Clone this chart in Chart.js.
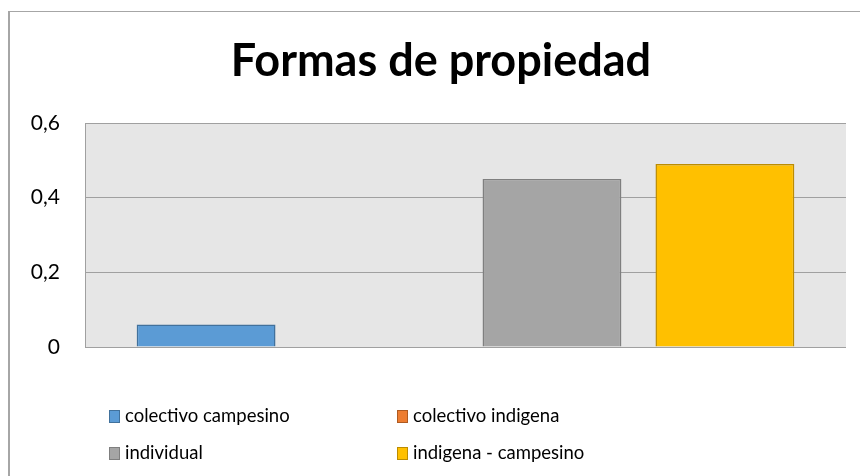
<!DOCTYPE html>
<html>
<head>
<meta charset="utf-8">
<script src="https://cdn.jsdelivr.net/npm/chart.js@4/dist/chart.umd.min.js"></script>
<style>
  body { margin: 0; background: #fff; }
  #wrap { position: relative; width: 860px; height: 476px; overflow: hidden; font-family: Lato, "Open Sans", sans-serif; }
  #frame { position: absolute; left: 8px; top: 11px; width: 900px; height: 500px; border-left: 2px solid #a6a6a6; border-top: 1px solid #a6a6a6; box-sizing: border-box; }
  #myChart { position: absolute; left: 0; top: 0; }
  #legend { position: absolute; left: 109px; top: 402px; width: 700px; }
  .item { position: absolute; white-space: nowrap; font-size: 18.5px; color: #000; line-height: 26px; }
  .item span.box { display: inline-block; width: 11px; height: 13px; margin-right: 5px; vertical-align: -1px; box-sizing: border-box; border: 1px solid; }
</style>
</head>
<body>
<div id="wrap">
  <div id="frame"></div>
  <canvas id="myChart" width="860" height="476"></canvas>
  <div id="legend"></div>
</div>
<script>
// データ
var categories = [''];
var seriesNames = ['colectivo campesino', 'colectivo indigena', 'individual', 'indigena - campesino'];
var colectivoCampesino = [0.06];
var colectivoIndigena = [0];
var individual = [0.45];
var indigenaCampesino = [0.49];
var yTickLabels = ['0', '0,2', '0,4', '0,6'];

var fillColors = ['#5b9bd5', '#ed7d31', '#a5a5a5', '#ffc000'];
var lineColors = ['#41719c', '#ae5a21', '#7f7f7f', '#bc8c00'];

// グラフ背景
var plotBg = {
  id: 'plotBg',
  beforeDraw: function(chart) {
    var a = chart.chartArea;
    var c = chart.ctx;
    c.save();
    c.fillStyle = '#e6e6e6';
    c.fillRect(a.left, a.top, a.right - a.left, a.bottom - a.top);
    c.restore();
  }
};

// タイトルを少し右へ
var titleShift = {
  id: 'titleShift',
  afterLayout: function(chart) {
    var t = chart.titleBlock;
    if (t) { t.left += 18; t.right += 18; }
  }
};

var values = [colectivoCampesino, colectivoIndigena, individual, indigenaCampesino];
var datasets = [];
for (var i = 0; i < seriesNames.length; i++) {
  datasets.push({
    label: seriesNames[i],
    data: values[i],
    backgroundColor: fillColors[i],
    borderColor: lineColors[i],
    borderWidth: 1.5,
    barPercentage: 0.803,
    categoryPercentage: 0.909
  });
}

var ctx = document.getElementById('myChart');
var myChart = new Chart(ctx, {
  type: 'bar',
  data: { labels: categories, datasets: datasets },
  plugins: [plotBg, titleShift],
  options: {
    responsive: false,
    animation: false,
    layout: { padding: { left: 0, right: 14, top: 0, bottom: 129 } },
    plugins: {
      legend: { display: false },
      tooltip: { enabled: false },
      title: {
        display: true,
        text: 'Formas de propiedad',
        color: '#000',
        font: { family: 'Lato', size: 45, weight: 'bold', lineHeight: 1.2 },
        padding: { top: 34, bottom: 35 }
      }
    },
    scales: {
      x: {
        display: false
      },
      y: {
        min: 0,
        max: 0.6,
        afterFit: function(scale) { scale.width = 85; },
        ticks: {
          stepSize: 0.2,
          padding: 25,
          color: '#000',
          font: { family: 'Lato', size: 21 },
          callback: function(v, idx) { return yTickLabels[idx]; }
        },
        grid: { color: '#a0a0a0', lineWidth: 1, drawTicks: false },
        border: { display: true, color: '#a0a0a0' }
      }
    }
  }
});

// 凡例 (2列)
var legend = document.getElementById('legend');
var labels = myChart.options.plugins.legend.labels.generateLabels(myChart);
labels.forEach(function(l, i) {
  var d = document.createElement('div');
  d.className = 'item';
  d.style.left = (i % 2 === 0 ? 0 : 288) + 'px';
  d.style.top = (Math.floor(i / 2) * 37) + 'px';
  d.innerHTML = '<span class="box" style="background:' + l.fillStyle + ';border-color:' + l.strokeStyle + '"></span>' + l.text;
  legend.appendChild(d);
});
</script>
</body>
</html>
